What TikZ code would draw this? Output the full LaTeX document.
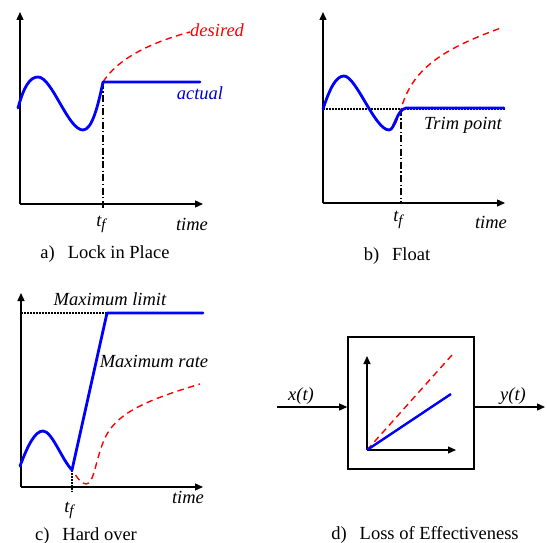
\documentclass[tikz,border=0pt]{standalone}
\usepackage{fontspec}
\setmainfont{Liberation Serif}
\usetikzlibrary{arrows.meta}
\begin{document}
\begin{tikzpicture}[x=1pt,y=-1pt,
  ax/.style={line width=1.3pt, -{Triangle[length=8pt,width=7pt]}},
  act/.style={blue, line width=2.8pt, line join=round, line cap=round},
  des/.style={red, line width=1.4pt, dash pattern=on 6.5pt off 4.5pt},
  tfline/.style={line width=1.1pt, dash pattern=on 7pt off 2.5pt on 1.2pt off 2.5pt},
  limline/.style={line width=2.2pt, dash pattern=on 1.6pt off 1.4pt},
  lbl/.style={font=\fontsize{18.5}{20}\selectfont\itshape, inner sep=0pt, anchor=base},
  captext/.style={font=\fontsize{18.5}{20}\selectfont, inner sep=0pt, anchor=base},
]
\useasboundingbox (0,0) rectangle (547,543);
\newcommand{\tfsym}{\textit{t}\raisebox{-0.4ex}{\fontsize{15}{15}\selectfont\textit{f}}}

% ---------- panel a ----------
\coordinate (ao) at (20,204);
\coordinate (ay) at (20,12);
\coordinate (ax) at (203,204);
\coordinate (af) at (103,82);
\coordinate (afb) at (103,210);
\draw[ax] (ao) -- (ay);
\draw[ax] (ao) -- (ax);
\draw[des] (18,108) .. controls (24,86) and (30,77) .. (38,77) .. controls (52,77) and (68,130) .. (83,130) .. controls (92,130) and (98,106) .. (af);
\draw[des] (af) .. controls (120,55) and (160,40) .. (190,32);
\draw[tfline] (af) -- (afb);
\draw[act] (18,108) .. controls (24,86) and (30,77) .. (38,77) .. controls (52,77) and (68,130) .. (83,130) .. controls (92,130) and (98,106) .. (af) -- (200,82);
\node[lbl, red, anchor=base west] (adesired) at (190,37) {desired};
\node[lbl, blue!80!black] (aactual) at (200,100) {actual};
\node[lbl] (atf) at (101,226) {\tfsym};
\node[lbl] (atime) at (192,230) {time};
\node[captext] (acap) at (105,258) {a)\hspace{0.7em}Lock in Place};

% ---------- panel b ----------
\coordinate (bo) at (323,203);
\coordinate (by) at (323,12);
\coordinate (bx) at (505,203);
\coordinate (btrim) at (323,109);
\coordinate (bf) at (401,109);
\draw[ax] (bo) -- (by);
\draw[ax] (bo) -- (bx);
\draw[limline] (btrim) -- (505,109);
\draw[tfline] (bf) -- (bo -| bf);
\draw[des] (btrim) .. controls (330,88) and (336,76) .. (344,76) .. controls (356,76) and (375,130) .. (389,130) .. controls (394,130) and (398,118) .. (bf) .. controls (412,70) and (440,50) .. (501,28);
\draw[act] (btrim) .. controls (330,88) and (336,76) .. (344,76) .. controls (356,76) and (375,130) .. (389,130) .. controls (395,130) and (396,110) .. (406,108) -- (504,108);
\node[lbl, anchor=base east] (btrimtxt) at (502,129) {Trim point};
\node[lbl] (btf) at (398,222) {\tfsym};
\node[lbl] (btime) at (491,228) {time};
\node[captext] (bcap) at (397,260) {b)\hspace{0.7em}Float};

% ---------- panel c ----------
\coordinate (co) at (21,487);
\coordinate (cy) at (21,293);
\coordinate (cx) at (203,487);
\coordinate (cf) at (72,470);
\coordinate (ctop) at (107,313);
\draw[ax] (co) -- (cy);
\draw[ax] (co) -- (cx);
\draw[limline] (21,313) -- (ctop);
\draw[limline] (72,467) -- (72,492);
\draw[des] (20,466) .. controls (28,445) and (35,431) .. (43,431) .. controls (52,431) and (62,460) .. (cf) .. controls (77,477) and (81,484) .. (86,484) .. controls (94,484) and (95,462) .. (104,440) .. controls (115,415) and (140,402) .. (200,384);
\draw[act] (20,466) .. controls (28,445) and (35,431) .. (43,431) .. controls (52,431) and (62,460) .. (cf) -- (ctop) -- (203,313);
\node[lbl] (climit) at (110,305) {Maximum limit};
\node[lbl] (crate) at (154,367) {Maximum rate};
\node[lbl] (ctf) at (69,512) {\tfsym};
\node[lbl] (ctime) at (188,503) {time};
\node[captext] (ccap) at (86,540) {c)\hspace{0.7em}Hard over};

% ---------- panel d ----------
\node[draw, line width=1.6pt, minimum width=126pt, minimum height=132pt, inner sep=0pt] (dbox) at (411,403) {};
\coordinate (din) at (277,407);
\coordinate (dout) at (545,407);
\draw[ax] (din) -- (din -| dbox.west);
\draw[ax] (dout -| dbox.east) -- (dout);
\coordinate (dio) at (367,450);
\draw[line width=1.2pt, -{Triangle[length=8pt,width=7pt]}] (dio) -- (367,356);
\draw[line width=1.2pt, -{Triangle[length=8pt,width=7pt]}] (dio) -- (456,450);
\draw[des] (dio) -- (452,355);
\draw[blue, line width=2.4pt] (dio) -- (451,394);
\node[lbl] (dx) at (301,400) {x(t)};
\node[lbl] (dyt) at (513,400) {y(t)};
\node[captext] (dcap) at (425,539) {d)\hspace{0.7em}Loss of Effectiveness};
\end{tikzpicture}
\end{document}
